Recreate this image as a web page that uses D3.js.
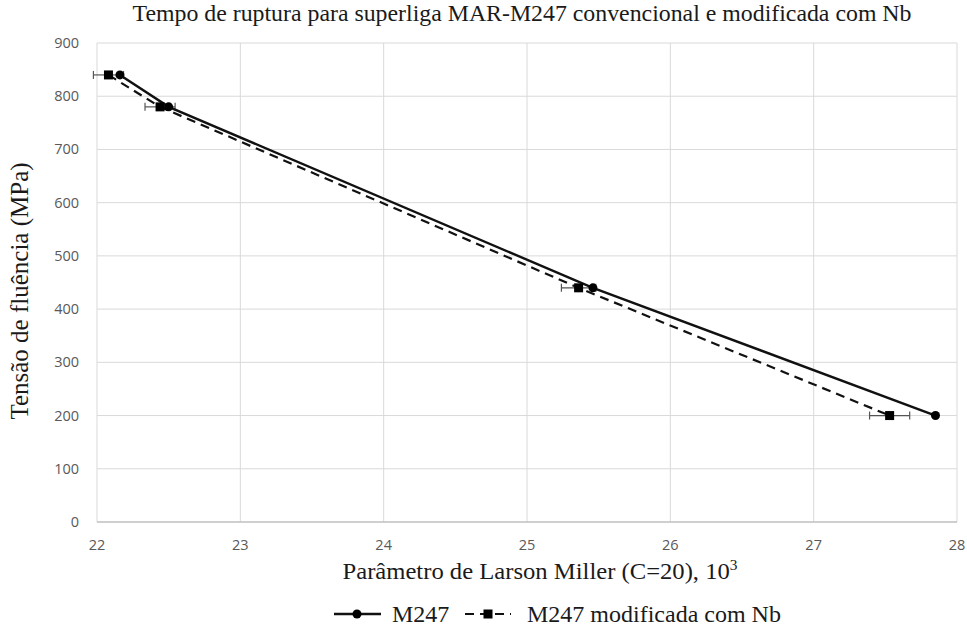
<!DOCTYPE html>
<html>
<head>
<meta charset="utf-8">
<script src="https://cdn.jsdelivr.net/npm/d3@7"></script>
<style>
  body { margin: 0; background: #fff; }
  svg { display: block; }
</style>
</head>
<body>
<svg id="chart" width="967" height="633"></svg>
<script>
// Rupture stress vs Larson-Miller parameter
const stress = [840, 780, 440, 200];
const lmpConventional = [22.16, 22.50, 25.46, 27.85];
const lmpModified = [22.08, 22.44, 25.36, 27.53];
const lmpModifiedErr = [0.105, 0.105, 0.12, 0.14];
const xTicks = [22, 23, 24, 25, 26, 27, 28];
const yTicks = [0, 100, 200, 300, 400, 500, 600, 700, 800, 900];
const seriesNames = ["M247", "M247 modificada com Nb"];

const svg = d3.select("#chart");
const margin = { left: 97, right: 10, top: 43, bottom: 111 };
const W = 967, H = 633;

const x = d3.scaleLinear().domain([22, 28]).range([margin.left, W - margin.right]);
const y = d3.scaleLinear().domain([0, 900]).range([H - margin.bottom, margin.top]);

const serif = "'Liberation Serif', 'Times New Roman', serif";
const sans = "'Open Sans', 'Noto Sans', sans-serif";
const textColor = "#1a1a1a";

function serifText(px, py, size, anchor) {
  return svg.append("text").attr("x", px).attr("y", py).attr("text-anchor", anchor)
    .attr("font-family", serif).attr("font-size", size).attr("fill", textColor);
}

// gridlines
svg.append("g").selectAll("line").data(xTicks).join("line")
  .attr("x1", d => x(d)).attr("x2", d => x(d))
  .attr("y1", y(900)).attr("y2", y(0))
  .attr("stroke", "#d9d9d9").attr("stroke-width", 1);
svg.append("g").selectAll("line").data(yTicks.filter(d => d > 0)).join("line")
  .attr("x1", x(22)).attr("x2", x(28))
  .attr("y1", d => y(d)).attr("y2", d => y(d))
  .attr("stroke", "#d9d9d9").attr("stroke-width", 1);
svg.append("line")
  .attr("x1", x(22)).attr("x2", x(28)).attr("y1", y(0)).attr("y2", y(0))
  .attr("stroke", "#bfbfbf").attr("stroke-width", 1.3);

// tick labels
svg.append("g").selectAll("text").data(xTicks).join("text")
  .attr("x", d => x(d)).attr("y", 550)
  .attr("text-anchor", "middle")
  .attr("font-family", sans).attr("font-size", 14.5).attr("fill", "#595959")
  .text(d => d);
svg.append("g").selectAll("text").data(yTicks).join("text")
  .attr("x", 79).attr("y", d => y(d) + 5)
  .attr("text-anchor", "end")
  .attr("font-family", sans).attr("font-size", 14.5).attr("fill", "#595959")
  .text(d => d);

// titles
serifText(522, 21, 23, "middle")
  .attr("textLength", 779).attr("lengthAdjust", "spacingAndGlyphs")
  .text("Tempo de ruptura para superliga MAR-M247 convencional e modificada com Nb");
const xt = serifText(540, 579, 24, "middle")
  .attr("textLength", 395).attr("lengthAdjust", "spacingAndGlyphs");
xt.append("tspan").text("Parâmetro de Larson Miller (C=20), 10");
xt.append("tspan").attr("dy", -9).attr("font-size", 15).text("3");
svg.append("text")
  .attr("transform", "translate(28,291) rotate(-90)")
  .attr("text-anchor", "middle")
  .attr("font-family", serif).attr("font-size", 25).attr("fill", textColor)
  .text("Tensão de fluência (MPa)");

const line = d3.line().x(d => x(d[0])).y(d => y(d[1]));
const convPts = lmpConventional.map((v, i) => [v, stress[i]]);
const modPts = lmpModified.map((v, i) => [v, stress[i]]);

// horizontal error bars on the Nb-modified alloy
const eb = svg.append("g").attr("stroke", "#555").attr("stroke-width", 1.2);
modPts.forEach((p, i) => {
  const x0 = x(p[0] - lmpModifiedErr[i]), x1 = x(p[0] + lmpModifiedErr[i]), yy = y(p[1]);
  eb.append("line").attr("x1", x0).attr("x2", x1).attr("y1", yy).attr("y2", yy);
  [x0, x1].forEach(xx => eb.append("line").attr("x1", xx).attr("x2", xx).attr("y1", yy - 4).attr("y2", yy + 4));
});

// series lines
svg.append("path").datum(modPts).attr("d", line)
  .attr("fill", "none").attr("stroke", "#111").attr("stroke-width", 2.2)
  .attr("stroke-dasharray", "9,6");
svg.append("path").datum(convPts).attr("d", line)
  .attr("fill", "none").attr("stroke", "#111").attr("stroke-width", 2.4);

// markers
svg.append("g").selectAll("rect").data(modPts).join("rect")
  .attr("x", d => x(d[0]) - 4.5).attr("y", d => y(d[1]) - 4.5)
  .attr("width", 9).attr("height", 9).attr("fill", "#000");
svg.append("g").selectAll("circle").data(convPts).join("circle")
  .attr("cx", d => x(d[0])).attr("cy", d => y(d[1])).attr("r", 4.5).attr("fill", "#000");

// legend
const ly = 614;
const lg = svg.append("g");
lg.append("line").attr("x1", 334).attr("x2", 381).attr("y1", ly).attr("y2", ly)
  .attr("stroke", "#111").attr("stroke-width", 2.4);
lg.append("circle").attr("cx", 357).attr("cy", ly).attr("r", 4.5).attr("fill", "#000");
serifText(392, ly + 8, 24, "start").text(seriesNames[0]);
lg.append("line").attr("x1", 465).attr("x2", 511).attr("y1", ly).attr("y2", ly)
  .attr("stroke", "#111").attr("stroke-width", 2.2).attr("stroke-dasharray", "9,6");
lg.append("rect").attr("x", 483.5).attr("y", ly - 4.5).attr("width", 9).attr("height", 9).attr("fill", "#000");
serifText(527, ly + 8, 24, "start").text(seriesNames[1]);
</script>
</body>
</html>
